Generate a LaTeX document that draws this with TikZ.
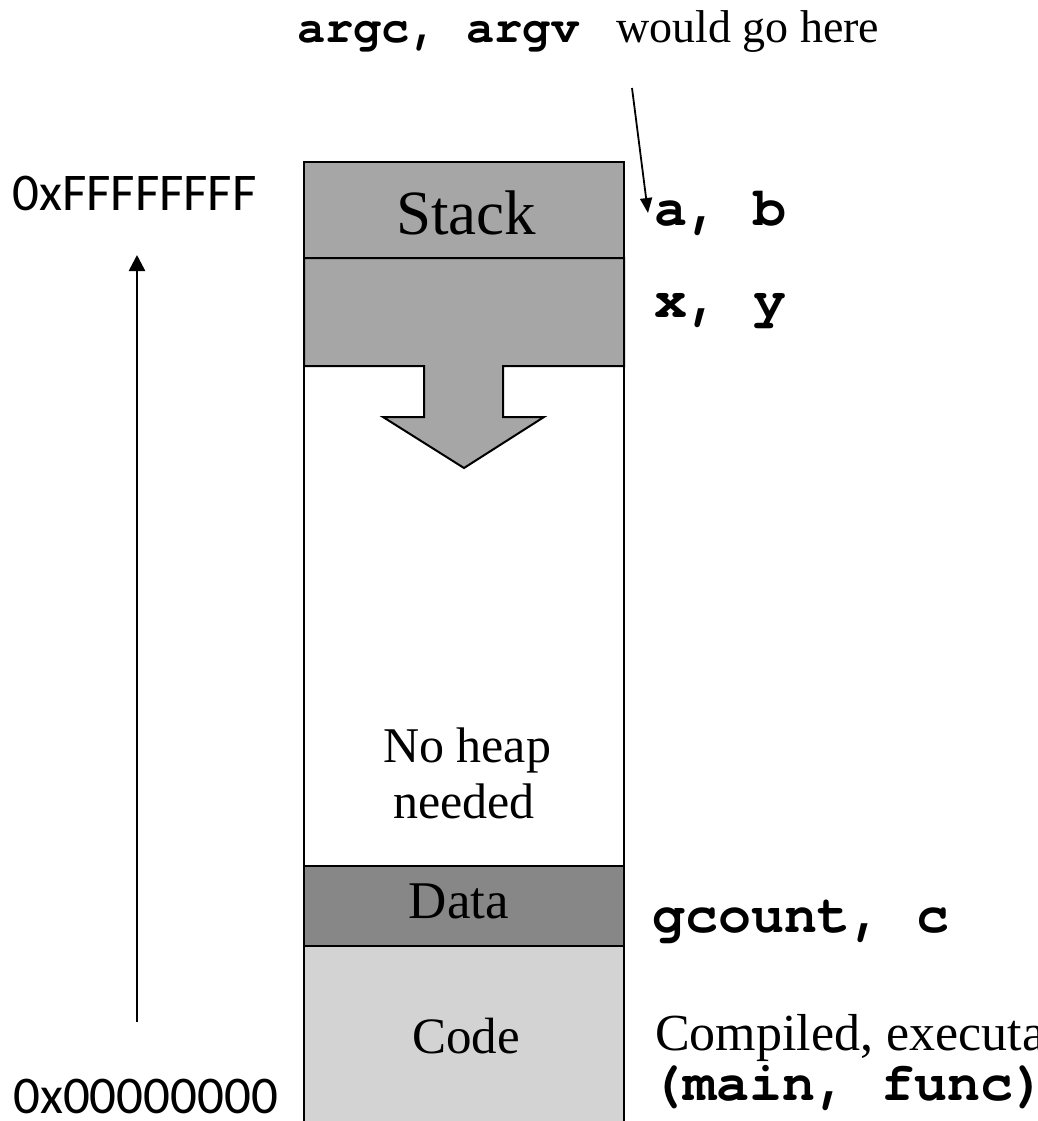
\documentclass[tikz,border=0pt]{standalone}
\usepackage{fontspec}
\setmainfont{Liberation Serif}
\setmonofont{texgyrecursor}[Extension=.otf, UprightFont=*-regular, BoldFont=*-bold]
\newfontfamily\calfont{Carlito}
\usetikzlibrary{arrows.meta}
\definecolor{stackgray}{HTML}{A6A6A6}
\definecolor{datagray}{HTML}{878787}
\definecolor{codegray}{HTML}{D3D3D3}
\tikzset{
  region/.style={draw=black, line width=2pt},
  lbl/.style={inner sep=0pt, anchor=base},
  lblw/.style={inner sep=0pt, anchor=base west},
  serif/.style={font=\fontsize{#1}{#1}\selectfont},
  mono/.style={font=\fontsize{#1}{#1}\selectfont\ttfamily\bfseries},
  hexlbl/.style={font=\fontsize{53}{53}\selectfont\calfont},
  ptr/.style={draw=black, line width=1.8pt, -{Triangle[length=15pt,width=12pt]}},
  axis/.style={draw=black, line width=2.6pt, -{Triangle[length=16pt,width=16pt]}}
}
\begin{document}
\begin{tikzpicture}[x=1pt,y=-1pt]
\useasboundingbox (0,0) rectangle (1038,1121);
\clip (0,0) rectangle (1038,1121);
% regions
\fill[codegray] (304,946) rectangle (624,1130);
\fill[datagray] (304,866) rectangle (624,946);
\fill[stackgray] (304,162) rectangle (624,258);
\fill[stackgray] (304,258) -- (624,258) -- (624,366) -- (503,366) -- (503,417) -- (544,417)
  -- (464,468) -- (383,417) -- (424,417) -- (424,366) -- (304,366) -- cycle;
\draw[region] (304,258) -- (624,258) -- (624,366) -- (503,366) -- (503,417) -- (544,417)
  -- (464,468) -- (383,417) -- (424,417) -- (424,366) -- (304,366) -- cycle;
\draw[region] (304,1130) -- (304,162) -- (624,162) -- (624,1130);
\draw[region] (304,866) -- (624,866);
\draw[region] (304,946) -- (624,946);
% labels inside
\node[lbl, serif=63] (stacklbl) at (466,234) {Stack};
\node[lbl, serif=50] (noheap) at (467,762) {No heap};
\node[lbl, serif=50] (needed) at (464,818) {needed};
\node[lbl, serif=53] (datalbl) at (459,918) {Data};
\node[lbl, serif=51] (codelbl) at (466,1053) {Code};
% right labels
\node[lblw, mono=47] (argc) at (297,43) {argc, argv};
\node[lblw, serif=46] (gohere) at (616,43) {would go here};
\node[lblw, mono=55] (ab) at (654,225) {a, b};
\node[lblw, mono=55] (xy) at (654,317) {x, y};
\node[lblw, mono=55] (gcount) at (652,932) {gcount, c};
\node[lblw, serif=52] (compiled) at (655,1050) {Compiled, executa};
\node[lblw, mono=55] (mainfunc) at (650,1100) {(main, func)};
% hex labels
\node[lblw, hexlbl] (hexhi) at (12,210) {0xFFFFFFFF};
\node[lblw, hexlbl] (hexlo) at (13,1113) {0x00000000};
% connectors
\coordinate (ptrstart) at (632,88);
\coordinate (ptrend) at (648,213);
\draw[ptr] (ptrstart) -- (ptrend);
\coordinate (axisbot) at (137,1022);
\coordinate (axistop) at (137,255);
\draw[axis] (axisbot) -- (axistop);
\end{tikzpicture}
\end{document}
